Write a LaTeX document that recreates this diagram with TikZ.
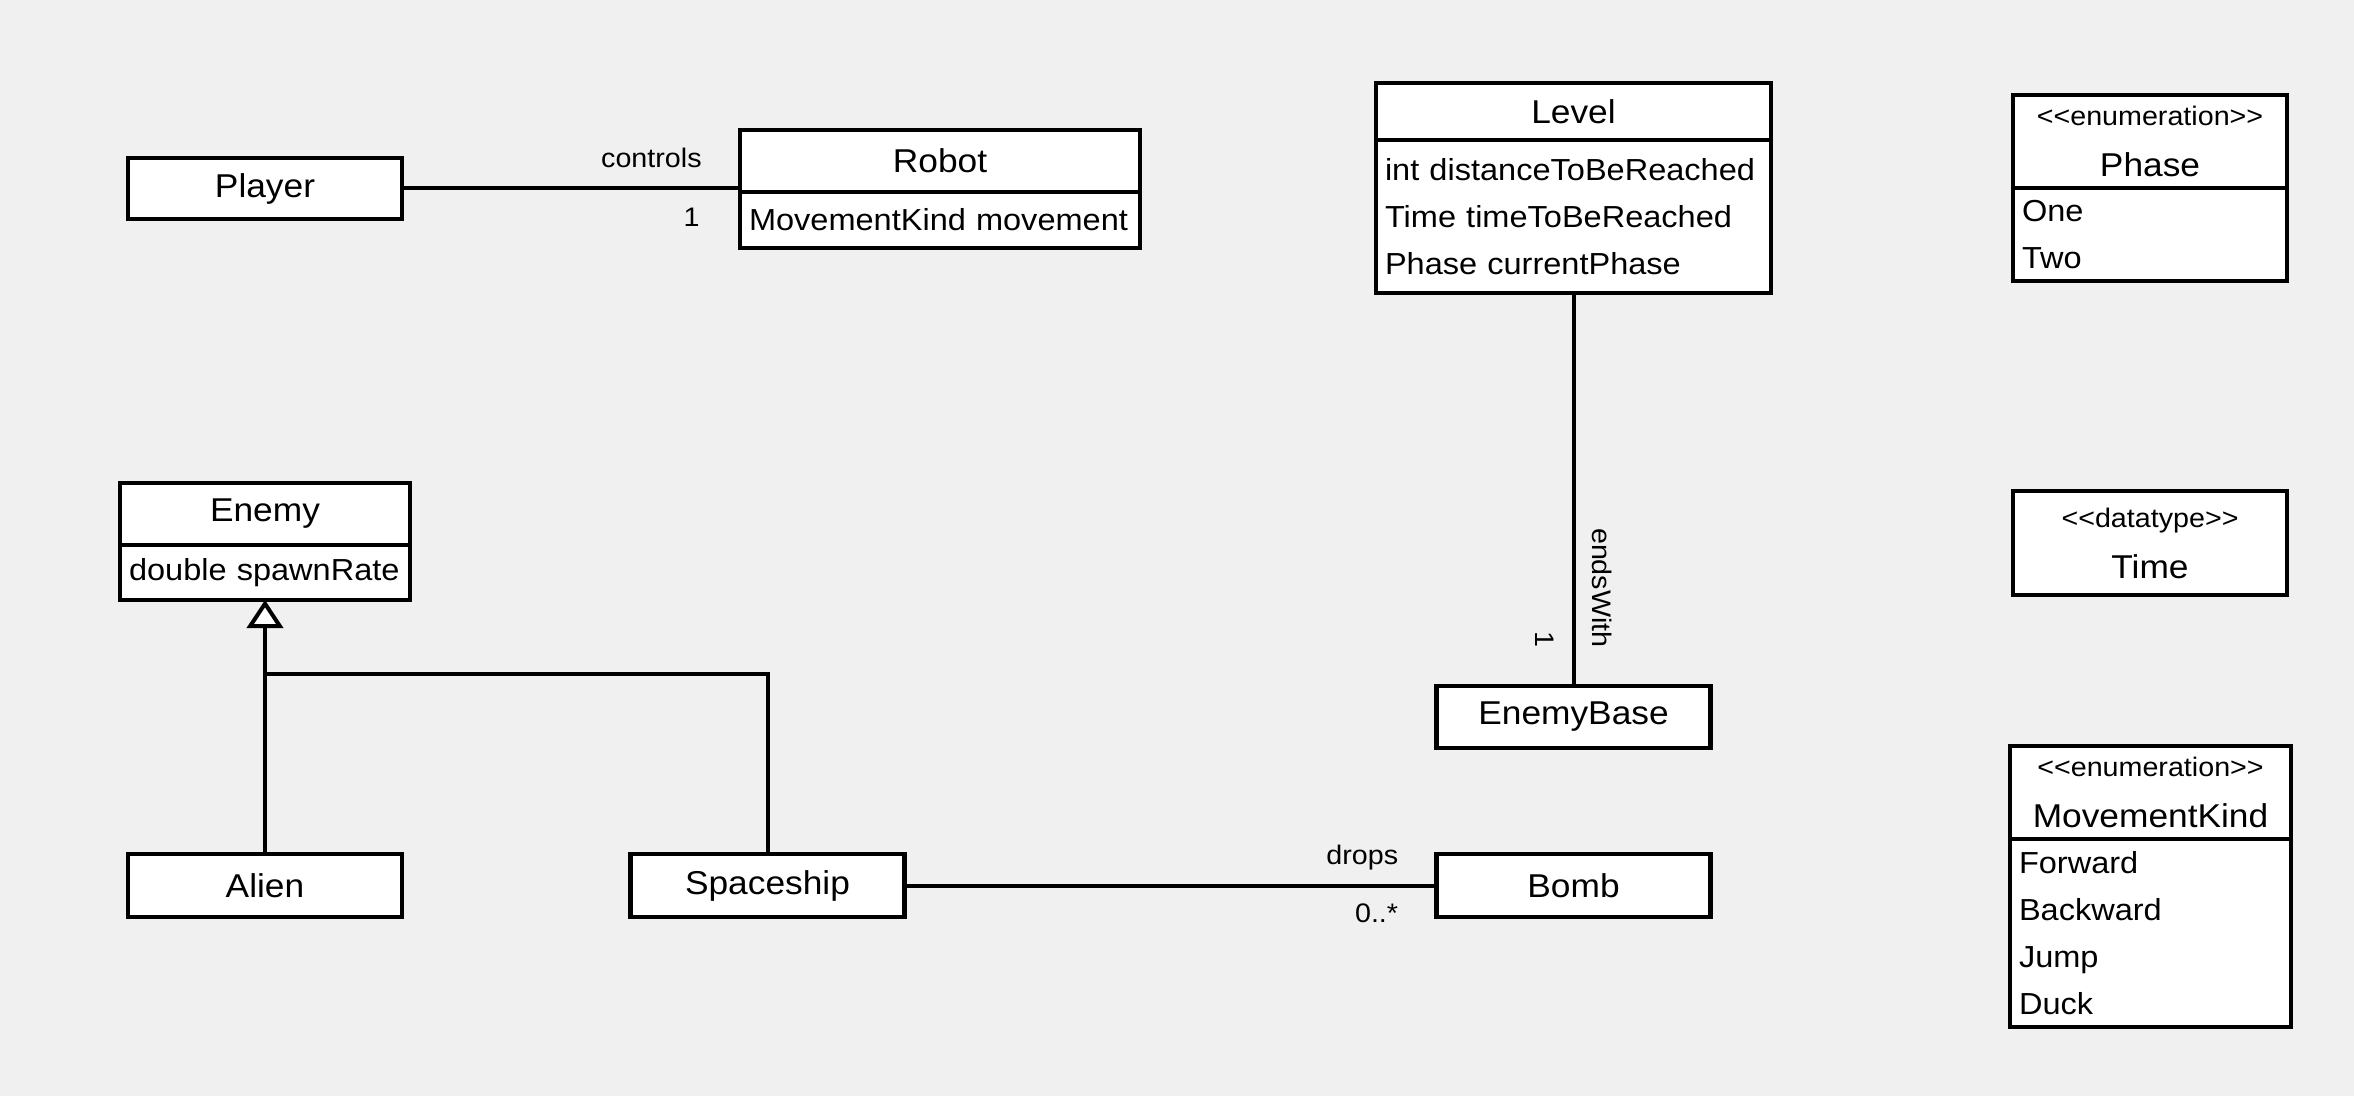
\documentclass[tikz,border=0pt]{standalone}
\usepackage{fontspec}
\setmainfont{Liberation Sans}[FakeStretch=1.07, Ligatures=TeXOff]
\usepackage{tikz}
\usetikzlibrary{positioning,arrows.meta}
\pgfdeclarelayer{background}
\pgfdeclarelayer{foreground}
\pgfsetlayers{background,main,foreground}
\definecolor{canvas}{HTML}{F0F0F0}
\newcommand\namefont{\fontsize{16.5}{19}\selectfont}
\newcommand\attrfont{\fontsize{15.2}{23.5}\selectfont\hyphenpenalty=10000}
\newcommand\labelfont{\fontsize{13.4}{16}\selectfont}
\tikzset{
  classhead/.style={draw, line width=2.4pt, fill=white, outer sep=0pt, inner sep=0pt,
    minimum width=#1, font=\namefont, align=center},
  classbody/.style={draw, line width=2.4pt, fill=white, outer sep=0pt, inner xsep=4.5pt,
    inner ysep=0pt, text width=#1, font=\attrfont, align=left},
  assoc/.style={line width=2pt},
  generalizes/.style={line width=2pt, -{Triangle[length=14pt,width=18pt,fill=white]}},
  endlabel/.style={inner sep=0pt, font=\labelfont},
}

\begin{document}
\begin{tikzpicture}[x=0.5pt,y=-0.5pt]
\begin{pgfonlayer}{background}
\fill[canvas] (0,0) rectangle (2354,1096);
\end{pgfonlayer}
\begin{pgfonlayer}{foreground}
% classes
\node[classhead=137pt, minimum height=30.5pt] (player) at (265,188.5) {Player};
\node[classhead=200pt, minimum height=31pt] (robothead) at (940,161) {Robot};
\node[classbody=191pt, minimum height=28pt, below=0pt of robothead] (robotbody) {MovementKind~movement};
\node[classhead=197.5pt, minimum height=28.5pt] (levelhead) at (1573.5,111.5) {Level};
\node[classbody=188.5pt, minimum height=76.5pt, below=0pt of levelhead] (levelbody)
  {int~distanceToBeReached\\Time~timeToBeReached\\Phase~currentPhase};
\node[classhead=145pt, minimum height=31pt] (enemyhead) at (265,514) {Enemy};
\node[classbody=136pt, minimum height=27.5pt, below=0pt of enemyhead] (enemybody) {double~spawnRate};
\node[classhead=137pt, minimum height=31.5pt] (alien) at (265,885.5) {Alien};
\node[classhead=137pt, minimum height=31.5pt] (spaceship) at (767.5,885.5) {Spaceship};
\node[classhead=137pt, minimum height=31.5pt] (bomb) at (1573.5,885.5) {Bomb};
\node[classhead=137pt, minimum height=31pt] (enemybase) at (1573.5,717) {EnemyBase};
% data types
\node[classhead=137pt, minimum height=46.5pt] (phasehead) at (2150,141.5)
  {{\labelfont <<enumeration>>}\\[6.5pt]Phase};
\node[classbody=128pt, minimum height=46.5pt, below=0pt of phasehead] (phasebody) {One\\Two};
\node[classhead=137pt, minimum height=52pt] (time) at (2150,543)
  {{\labelfont <<datatype>>}\\[6.5pt]Time};
\node[classhead=140.5pt, minimum height=46.5pt] (kindhead) at (2150.5,792.5)
  {{\labelfont <<enumeration>>}\\[6.5pt]MovementKind};
\node[classbody=131.5pt, minimum height=94pt, below=0pt of kindhead] (kindbody)
  {Forward\\Backward\\Jump\\Duck};
\end{pgfonlayer}

% associations
\coordinate (controlsend) at (player.east -| robothead.west);
\draw[assoc] (player.east) -- (controlsend);
\node[endlabel, anchor=base east] (controlslabel) at ([xshift=-19pt,yshift=10.5pt]controlsend) {controls};
\node[endlabel, anchor=north east] (robotmult) at ([xshift=-20pt,yshift=-9.5pt]controlsend) {1};

\draw[assoc] (spaceship.east) -- (bomb.west);
\node[endlabel, anchor=base east] (dropslabel) at ([xshift=-19pt,yshift=10.5pt]bomb.west) {drops};
\node[endlabel, anchor=north east] (bombmult) at ([xshift=-19pt,yshift=-9pt]bomb.west) {0..*};

\draw[assoc] (levelbody.south) -- (enemybase.north);
\node[endlabel, rotate=-90, anchor=base east] (endslabel) at ([xshift=9.5pt,yshift=19pt]enemybase.north) {endsWith};
\node[endlabel, rotate=-90, anchor=north east] (basemult) at ([xshift=-9.5pt,yshift=19pt]enemybase.north) {1};

% generalization
\coordinate (genjoin) at (265,674);
\draw[generalizes] (alien.north) -- (enemybody.south);
\draw[assoc] (spaceship.north) |- (genjoin);
\end{tikzpicture}
\end{document}
